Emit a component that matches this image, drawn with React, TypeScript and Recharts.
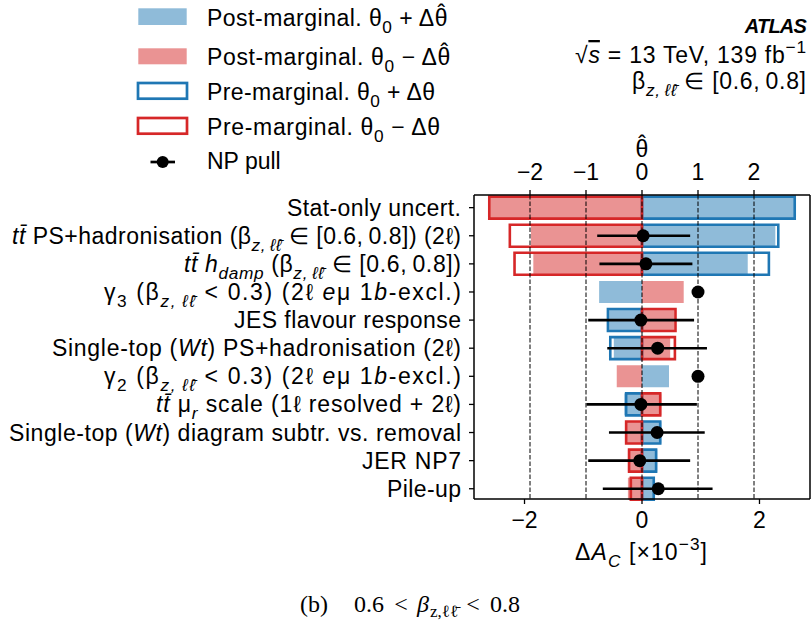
import React from "react";
import {
  ComposedChart,
  Bar,
  Scatter,
  ErrorBar,
  XAxis,
  YAxis,
  ReferenceLine,
} from "recharts";

const FONT = "'Liberation Sans', Arial, Helvetica, sans-serif";
const SERIF = "'Liberation Serif', 'DejaVu Serif', serif";
const BLUE = "#1f77b4";
const RED = "#d62728";
const BLUE_FILL = "#8fbbd9";
const RED_FILL = "#ea9393";

// nuisance parameters, ranked top to bottom
const params = [
  "Stat-only uncert.",
  "tt̄ PS+hadronisation (βz,ℓℓ̄ ∈ [0.6, 0.8]) (2ℓ)",
  "tt̄ hdamp (βz,ℓℓ̄ ∈ [0.6, 0.8])",
  "γ3 (βz,ℓℓ̄ < 0.3) (2ℓ eμ 1b-excl.)",
  "JES flavour response",
  "Single-top (Wt) PS+hadronisation (2ℓ)",
  "γ2 (βz,ℓℓ̄ < 0.3) (2ℓ eμ 1b-excl.)",
  "tt̄ μr scale (1ℓ resolved + 2ℓ)",
  "Single-top (Wt) diagram subtr. vs. removal",
  "JER NP7",
  "Pile-up",
];

// impact on ΔA_C [x10^-3]
const postUp = [2.6, 2.27, 1.8, -0.73, -0.56, -0.48, 0.46, -0.3, 0.33, 0.26, 0.22];
const postDown = [-2.6, -1.89, -1.85, 0.71, 0.55, 0.48, -0.43, 0.33, -0.29, -0.24, -0.24];
const preUp = [2.6, 2.32, 2.16, null, -0.58, -0.54, null, -0.27, 0.31, 0.24, 0.2];
const preDown = [-2.6, -2.25, -2.17, null, 0.57, 0.56, null, 0.31, -0.27, -0.22, -0.19];

// NP pulls (theta-hat) and their post-fit range
const pull = [null, 0.02, 0.07, 1.0, -0.02, 0.28, 1.0, -0.02, 0.27, -0.04, 0.29];
const pullLo = [null, -0.8, -0.76, null, -0.96, -0.62, null, -0.99, -0.59, -0.96, -0.7];
const pullHi = [null, 0.86, 0.9, null, 0.93, 1.16, null, 0.98, 1.12, 0.86, 1.26];

const topTicks = [-2, -1, 0, 1, 2];
const bottomTicks = [-2, 0, 2];

// rendered widths of the y labels (mathtext spacing is wider than plain text)
const labelWidths = [174, 449, 277, 357, 227, 409, 357, 305, 452, 99, 74];

type Seg = {
  t: string;
  i?: boolean;
  sub?: boolean;
  sup?: boolean;
  over?: boolean;
  hat?: boolean;
};

const beta: Seg[] = [{ t: "β" }, { t: "z,\u2009ℓℓ̄", i: true, sub: true }];

const labelParts: Seg[][] = [
  [{ t: "Stat-only uncert." }],
  [{ t: "tt̄", i: true }, { t: " PS+hadronisation (" }, ...beta, { t: " ∈ [0.6,\u20090.8]) (2ℓ)" }],
  [{ t: "tt̄", i: true }, { t: " " }, { t: "h", i: true }, { t: "damp", i: true, sub: true }, { t: " (" }, ...beta, { t: " ∈ [0.6,\u20090.8])" }],
  [{ t: "γ" }, { t: "3", sub: true }, { t: " (" }, ...beta, { t: " < 0.3) (2ℓ " }, { t: "e", i: true }, { t: "μ 1" }, { t: "b", i: true }, { t: "-excl.)" }],
  [{ t: "JES flavour response" }],
  [{ t: "Single-top (" }, { t: "Wt", i: true }, { t: ") PS+hadronisation (2ℓ)" }],
  [{ t: "γ" }, { t: "2", sub: true }, { t: " (" }, ...beta, { t: " < 0.3) (2ℓ " }, { t: "e", i: true }, { t: "μ 1" }, { t: "b", i: true }, { t: "-excl.)" }],
  [{ t: "tt̄", i: true }, { t: " μ" }, { t: "r", i: true, sub: true }, { t: " scale (1ℓ resolved + 2ℓ)" }],
  [{ t: "Single-top (" }, { t: "Wt", i: true }, { t: ") diagram subtr. vs. removal" }],
  [{ t: "JER NP7" }],
  [{ t: "Pile-up" }],
];

const data = params.map((name, i) => ({
  name,
  postUp: postUp[i],
  postDown: postDown[i],
  preUp: preUp[i],
  preDown: preDown[i],
}));

const pullData = params
  .map((name, i) => ({
    name,
    pull: pull[i],
    err:
      pullLo[i] == null || pull[i] == null
        ? [0, 0]
        : [pull[i]! - pullLo[i]!, pullHi[i]! - pull[i]!],
  }))
  .filter((d) => d.pull != null);

const minus = (v: number) => (v < 0 ? "\u2212" + Math.abs(v) : String(v));

// mathtext-ish rendering with tspans
function rich(segs: Seg[], size: number) {
  let shift = 0;
  return segs.map((s, k) => {
    const target = s.sub ? size * 0.3 : s.sup ? -size * 0.42 : s.hat ? -size * 0.2 : 0;
    const dy = target - shift;
    shift = target;
    return (
      <tspan
        key={k}
        dx={s.hat ? -size * 0.46 : undefined}
        dy={dy !== 0 ? dy : undefined}
        fontStyle={s.i ? "italic" : undefined}
        fontSize={s.sub || s.sup ? size * 0.75 : undefined}
        style={s.over ? { textDecoration: "overline" } : undefined}
      >
        {s.t}
      </tspan>
    );
  });
}

function YTick(props: any) {
  const { x, y, payload } = props;
  const idx = params.indexOf(payload.value);
  const segs = labelParts[idx] ?? [{ t: String(payload.value) }];
  return (
    <text
      x={x}
      y={y}
      dy={8}
      textAnchor="end"
      fontFamily={FONT}
      fontSize={23}
      fill="#000"
      textLength={labelWidths[idx]}
      lengthAdjust="spacing"
    >
      {rich(segs, 23)}
    </text>
  );
}

function PullDot(props: any) {
  const { cx, cy } = props;
  if (cx == null || cy == null || isNaN(cx) || isNaN(cy)) return <g />;
  return <circle cx={cx} cy={cy} r={6.5} fill="#000" />;
}

const tickStyle = { fontSize: 23, fill: "#000", fontFamily: FONT };

function Overlay() {
  const legendX = 207;
  const legend: { segs: Seg[]; y: number; w?: number }[] = [
    { segs: [{ t: "Post-marginal. θ" }, { t: "0", sub: true }, { t: " + Δθ" }, { t: "ˆ", hat: true }], y: 26, w: 241 },
    { segs: [{ t: "Post-marginal. θ" }, { t: "0", sub: true }, { t: " − Δθ" }, { t: "ˆ", hat: true }], y: 65, w: 244 },
    { segs: [{ t: "Pre-marginal. θ" }, { t: "0", sub: true }, { t: " + Δθ" }], y: 100, w: 228 },
    { segs: [{ t: "Pre-marginal. θ" }, { t: "0", sub: true }, { t: " − Δθ" }], y: 135, w: 233 },
    { segs: [{ t: "NP pull" }], y: 169 },
  ];
  return (
    <svg
      width={811}
      height={626}
      style={{ position: "absolute", left: 0, top: 0, pointerEvents: "none" }}
    >
      <rect x={138.3} y={8.3} width={48.4} height={16.7} fill={BLUE_FILL} />
      <rect x={138.3} y={48.3} width={48.4} height={16} fill={RED_FILL} />
      <rect x={138} y={83} width={49} height={15.7} fill="none" stroke={BLUE} strokeWidth={2.7} />
      <rect x={138} y={118} width={49} height={15.7} fill="none" stroke={RED} strokeWidth={2.7} />
      <line x1={150.5} x2={175} y1={162} y2={162} stroke="#000" strokeWidth={2.7} />
      <circle cx={162.7} cy={162} r={6} fill="#000" />
      {legend.map((l, k) => (
        <text
          key={k}
          x={legendX}
          y={l.y}
          fontFamily={FONT}
          fontSize={23}
          fill="#000"
          textLength={l.w}
          lengthAdjust={l.w ? "spacing" : undefined}
        >
          {rich(l.segs, 23)}
        </text>
      ))}

      <text x={806} y={33} textAnchor="end" fontFamily={FONT} fontSize={20} fontWeight="bold" fontStyle="italic" letterSpacing={-0.8} fill="#000">
        ATLAS
      </text>
      <text x={806} y={63} textAnchor="end" fontFamily={FONT} fontSize={23} fill="#000" textLength={231} lengthAdjust="spacing">
        {rich([{ t: "√" }, { t: "s", i: true, over: true }, { t: " = 13 TeV, 139 fb" }, { t: "−1", sup: true }], 23)}
      </text>
      <text x={806} y={89} textAnchor="end" fontFamily={FONT} fontSize={23} fill="#000" textLength={174} lengthAdjust="spacing">
        {rich([...beta, { t: " ∈ [0.6,\u20090.8]" }], 23)}
      </text>

      <text x={642} y={157} textAnchor="middle" fontFamily={FONT} fontSize={23} fill="#000">
        θ
      </text>
      <text x={642} y={152} textAnchor="middle" fontFamily={FONT} fontSize={23} fill="#000">
        ˆ
      </text>
      <text x={641} y={560} textAnchor="middle" fontFamily={FONT} fontSize={23} fill="#000" textLength={132} lengthAdjust="spacing">
        {rich([{ t: "Δ" }, { t: "A", i: true }, { t: "C", i: true, sub: true }, { t: " [×10" }, { t: "−3", sup: true }, { t: "]" }], 23)}
      </text>

      <g fontFamily={SERIF} fontSize={24} fill="#000">
        <text x={300} y={612}>(b)</text>
        <text x={354} y={612}>0.6</text>
        <text x={401} y={612} textAnchor="middle">&lt;</text>
        <text x={417} y={612} fontStyle="italic">β</text>
        <text x={430} y={617} fontSize={17}>z,ℓℓ̄</text>
        <text x={473} y={612} textAnchor="middle">&lt;</text>
        <text x={520} y={612} textAnchor="end">0.8</text>
      </g>
    </svg>
  );
}

export default function App() {
  return (
    <div style={{ position: "absolute", left: 0, top: 0, width: 811, height: 626, background: "#fff" }}>
      <div style={{ position: "absolute", left: 0, top: 0 }}>
        <ComposedChart
          width={811}
          height={626}
          data={data}
          layout="vertical"
          margin={{ top: 0, right: 0, bottom: 0, left: 0 }}
          barGap={-22}
        >
          <XAxis
            xAxisId="top"
            orientation="top"
            type="number"
            domain={[-3, 3]}
            ticks={topTicks}
            tickFormatter={minus}
            height={195}
            tickSize={5}
            tickMargin={10}
            tick={tickStyle}
            axisLine={{ stroke: "#000", strokeWidth: 1.5 }}
            tickLine={{ stroke: "#000", strokeWidth: 1.3 }}
            allowDataOverflow
          />
          <XAxis
            xAxisId="bottom"
            orientation="bottom"
            type="number"
            domain={[-2.86, 2.86]}
            ticks={bottomTicks}
            tickFormatter={minus}
            height={127}
            tickSize={5}
            tickMargin={8}
            tick={tickStyle}
            axisLine={{ stroke: "#000", strokeWidth: 1.5 }}
            tickLine={{ stroke: "#000", strokeWidth: 1.3 }}
            allowDataOverflow
          />
          <YAxis
            type="category"
            dataKey="name"
            allowDuplicatedCategory={false}
            width={474}
            tickSize={5}
            tickMargin={8}
            tick={<YTick />}
            interval={0}
            padding={{ top: -1.4, bottom: -3.8 }}
            axisLine={{ stroke: "#000", strokeWidth: 1.5 }}
            tickLine={{ stroke: "#000", strokeWidth: 1.3 }}
          />
          <YAxis
            yAxisId="right"
            orientation="right"
            type="category"
            dataKey="name"
            allowDuplicatedCategory={false}
            width={1}
            tick={false}
            tickLine={false}
            axisLine={{ stroke: "#000", strokeWidth: 1.5 }}
          />

          <Bar xAxisId="bottom" dataKey="postUp" barSize={22} fill={BLUE_FILL} isAnimationActive={false} />
          <Bar xAxisId="bottom" dataKey="postDown" barSize={22} fill={RED_FILL} isAnimationActive={false} />
          <Bar xAxisId="bottom" dataKey="preUp" barSize={22} fill="none" stroke={BLUE} strokeWidth={2.6} isAnimationActive={false} />
          <Bar xAxisId="bottom" dataKey="preDown" barSize={22} fill="none" stroke={RED} strokeWidth={2.6} isAnimationActive={false} />

          {topTicks.map((t) => (
            <ReferenceLine
              key={t}
              xAxisId="top"
              x={t}
              stroke="#000"
              strokeWidth={1}
              strokeDasharray="4.5 2"
              zIndex={350}
            />
          ))}

          <Scatter
            xAxisId="top"
            data={pullData}
            dataKey="pull"
            shape={<PullDot />}
            isAnimationActive={false}
          >
            <ErrorBar dataKey="err" direction="x" width={0} stroke="#000" strokeWidth={2.6} />
          </Scatter>
        </ComposedChart>
      </div>
      <Overlay />
    </div>
  );
}
